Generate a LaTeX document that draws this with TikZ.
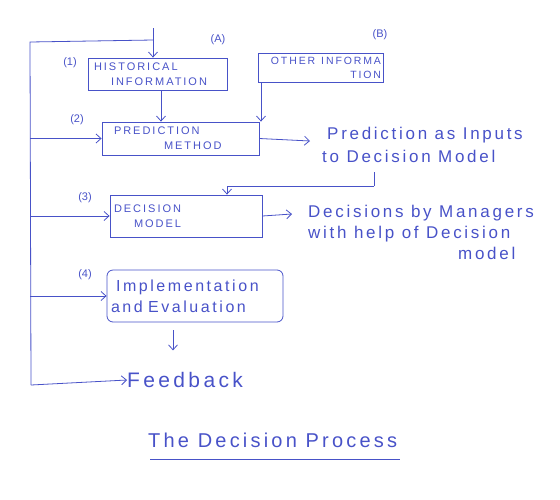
\documentclass[tikz,border=0pt]{standalone}
\usepackage{fontspec}
\setmainfont{Liberation Sans}
\newfontfamily\capsfont[LetterSpace=18]{Liberation Sans}
\newfontfamily\handfont[LetterSpace=16]{Liberation Sans}
\usetikzlibrary{arrows.meta}
\definecolor{ink}{RGB}{72,82,200}
\begin{document}
\begin{tikzpicture}[x=1pt,y=-1pt,
  line/.style={draw=ink, line width=0.8pt},
  arr/.style={line, -{Straight Barb[length=5pt,width=9pt]}},
  box/.style={line, inner sep=0pt, text=ink, align=left, font=\capsfont\fontsize{11}{15}\selectfont},
  hand/.style={text=ink, inner sep=0pt, anchor=west, align=left, font=\handfont\fontsize{17}{23}\selectfont},
  num/.style={text=ink, inner sep=0pt, font=\fontsize{11}{13}\selectfont}]
\useasboundingbox (0,0) rectangle (560,499);
% boxes
\node[box, minimum width=139pt, minimum height=32pt, text width=127pt] (hist) at (157.5,74) {HISTORICAL\\\hspace{17pt}INFORMATION};
\node[box, minimum width=125pt, minimum height=29pt, text width=121pt, align=right, font=\capsfont\fontsize{10.5}{14}\selectfont] (other) at (320.5,67.5) {OTHER\hspace{6pt}INFORMA\\TION\hspace{6pt}};
\node[box, minimum width=157pt, minimum height=33pt, text width=143pt] (pred) at (180.5,138.5) {\hspace{5pt}PREDICTION\\\hspace{55pt}METHOD};
\node[box, minimum width=152pt, minimum height=42pt, text width=144pt] (dec) at (186,216) {DECISION\\\hspace{20pt}MODEL};
\node[box, rounded corners=6pt, minimum width=176pt, minimum height=52pt, text width=168pt,
      font=\handfont\fontsize{16}{21}\selectfont] (impl) at (195,296) {\hspace{5pt}Implementation\\and Evaluation};
% labels
\node[num] (lA) at (218,40) {(A)};
\node[num] (lB) at (380,35) {(B)};
\node[num] (l1) at (70,63) {(1)};
\node[num] (l2) at (77,120) {(2)};
\node[num] (l3) at (85,198) {(3)};
\node[num] (l4) at (85,275) {(4)};
% texts
\node[hand] (ptxt) at (322,145) {\hspace{5pt}Prediction as Inputs\\to Decision Model};
\node[hand, font=\handfont\fontsize{17}{21}\selectfont] (dtxt) at (308,232) {Decisions by Managers\\with help of Decision\\\hspace{150pt}model};
\node[hand, font=\handfont\fontsize{21}{24}\selectfont] (fb) at (127,380) {Feedback};
\node[hand, font=\handfont\fontsize{20}{24}\selectfont] (title) at (148,440) {The Decision Process};
% coordinates
\coordinate (ltop) at (30,42);
\coordinate (lbot) at (31,385);
\coordinate (ttop) at (153,40);
\coordinate (tin) at (153,28);
\coordinate (tick) at (374,172);
\coordinate (tcor) at (374,186);
\coordinate (pend) at (310,141);
\coordinate (dend) at (292,214);
% feedback loop
\draw[line] (lbot) -- (ltop) -- (ttop);
\draw[arr] (tin) -- (hist.north -| tin);
\draw[arr] (lbot) -- (fb.west);
\draw[arr] (ltop |- pred.west) -- (pred.west);
\draw[arr] (ltop |- dec.west) -- (dec.west);
\draw[arr] (ltop |- impl.west) -- (impl.west);
% main flow
\draw[arr] (hist.south -| 161,0) -- (pred.north -| 161,0);
\draw[arr] (other.south -| 261,0) -- (pred.north -| 261,0);
\draw[arr] (pred.east) -- (pend);
\draw[line] (tick) -- (tcor);
\draw[arr] (tcor) -- (tcor -| 227,0) -- (dec.north -| 227,0);
\draw[arr] (dec.east) -- (dend);
\draw[arr] ([yshift=-8pt]impl.south -| 173,0) -- ([yshift=-28pt]impl.south -| 173,0);
% underline
\draw[line] (title.south west) ++(2,12) coordinate (u1) -- ++(250,0) coordinate (u2);
\end{tikzpicture}
\end{document}
